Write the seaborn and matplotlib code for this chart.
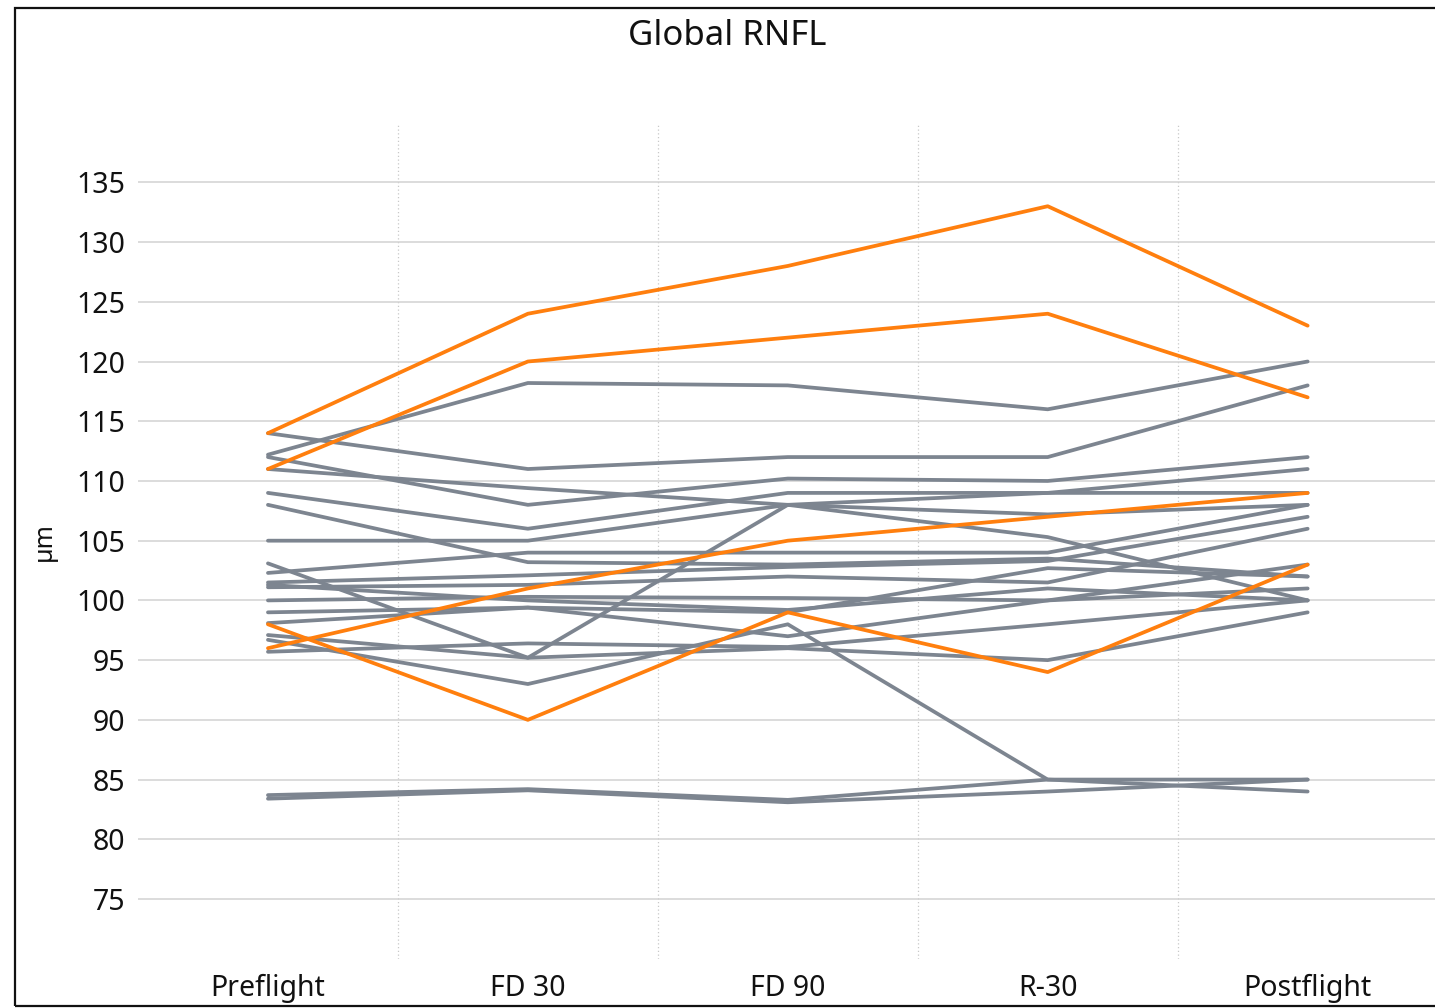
import matplotlib
matplotlib.use("Agg")
import matplotlib.pyplot as plt
import seaborn as sns
import pandas as pd
from matplotlib.patches import Rectangle

# Visit labels
timepoints = ["Preflight", "FD 30", "FD 90", "R-30", "Postflight"]

# Global RNFL thickness (µm) per subject across visits
gray_subjects = [
    [112.2, 118.2, 118.0, 116.0, 120.0],
    [114.0, 111.0, 112.0, 112.0, 118.0],
    [112.0, 108.0, 110.2, 110.0, 112.0],
    [111.0, 109.4, 108.0, 105.3, 100.0],
    [109.0, 106.0, 109.0, 109.0, 109.0],
    [108.0, 103.2, 103.0, 103.5, 102.0],
    [105.0, 105.0, 108.0, 109.0, 111.0],
    [103.1, 95.2, 108.0, 107.2, 108.0],
    [102.3, 104.0, 104.0, 104.0, 108.0],
    [101.5, 102.1, 102.8, 103.3, 107.0],
    [101.1, 101.3, 102.0, 101.5, 106.0],
    [100.0, 100.3, 100.2, 100.0, 103.0],
    [99.0, 99.4, 99.0, 102.7, 102.0],
    [98.1, 99.4, 97.0, 100.0, 101.0],
    [97.1, 95.2, 96.0, 95.0, 99.0],
    [96.7, 93.0, 98.0, 85.0, 85.0],
    [95.7, 96.4, 96.1, 98.0, 100.0],
    [83.7, 84.2, 83.3, 85.0, 84.0],
    [83.4, 84.1, 83.1, 84.0, 85.0],
    [101.3, 100.0, 99.2, 101.0, 100.0],
]

orange_subjects = [
    [114.0, 124.0, 128.0, 133.0, 123.0],
    [111.0, 120.0, 122.0, 124.0, 117.0],
    [96.0, 101.0, 105.0, 107.0, 109.0],
    [98.0, 90.0, 99.0, 94.0, 103.0],
]

yticks = [75, 80, 85, 90, 95, 100, 105, 110, 115, 120, 125, 130, 135]


def to_long(rows, group, start):
    recs = []
    for i, vals in enumerate(rows):
        for tp, v in zip(timepoints, vals):
            recs.append({"subject": start + i, "visit": tp, "rnfl": v, "group": group})
    return pd.DataFrame(recs)


gray_df = to_long(gray_subjects, "other", 0)
orange_df = to_long(orange_subjects, "highlight", len(gray_subjects))
for d in (gray_df, orange_df):
    d["visit"] = pd.Categorical(d["visit"], categories=timepoints, ordered=True)

sns.set_theme(style="white")
plt.rcParams["font.family"] = ["Noto Sans", "DejaVu Sans"]

fig = plt.figure(figsize=(14.35, 10.08), dpi=100)
ax = fig.add_axes([138 / 1435, 1 - 958.75 / 1008, (1435 - 138) / 1435, (958.75 - 125) / 1008])

GRAY = "#7d8590"
ORANGE = "#ff7f0e"

sns.lineplot(data=gray_df, x="visit", y="rnfl", units="subject", estimator=None,
             color=GRAY, linewidth=2.7, sort=False, ax=ax, legend=False, zorder=3)
sns.lineplot(data=orange_df, x="visit", y="rnfl", units="subject", estimator=None,
             color=ORANGE, linewidth=2.7, sort=False, ax=ax, legend=False, zorder=4)

ax.set_xlim(-0.5, 4.49)
ax.set_ylim(70, 139.8)
ax.set_yticks(yticks)
ax.set_yticklabels([str(t) for t in yticks])
ax.set_xticks(range(len(timepoints)))
ax.set_xticklabels(timepoints)

# horizontal grid
ax.yaxis.grid(True, color="#d2d2d2", linewidth=1.1, zorder=0)
ax.xaxis.grid(False)
# dotted separators between visits
for xs in [0.5, 1.5, 2.5, 3.5]:
    ax.axvline(xs, color="#c8c8c8", linewidth=0.9, linestyle=(0, (1, 2)), zorder=0)

for s in ax.spines.values():
    s.set_visible(False)
ax.tick_params(axis="y", length=0, pad=9, labelsize=20.5, labelcolor="#111111")
ax.tick_params(axis="x", length=0, pad=11, labelsize=20.5, labelcolor="#111111")
ax.set_xlabel("")
ax.set_ylabel("µm", fontsize=18, fontweight="bold", labelpad=14, color="#111111")

fig.text(727 / 1435, 1 - 36 / 1008, "Global RNFL", ha="center", va="center",
         fontsize=25, color="#111111")

# outer frame
fig.patches.append(Rectangle((15 / 1435, 2 / 1008), 1.2, 1 - 10 / 1008,
                             transform=fig.transFigure, fill=False,
                             edgecolor="#111111", linewidth=1.6, clip_on=False))

fig.savefig("out.png", dpi=100)
